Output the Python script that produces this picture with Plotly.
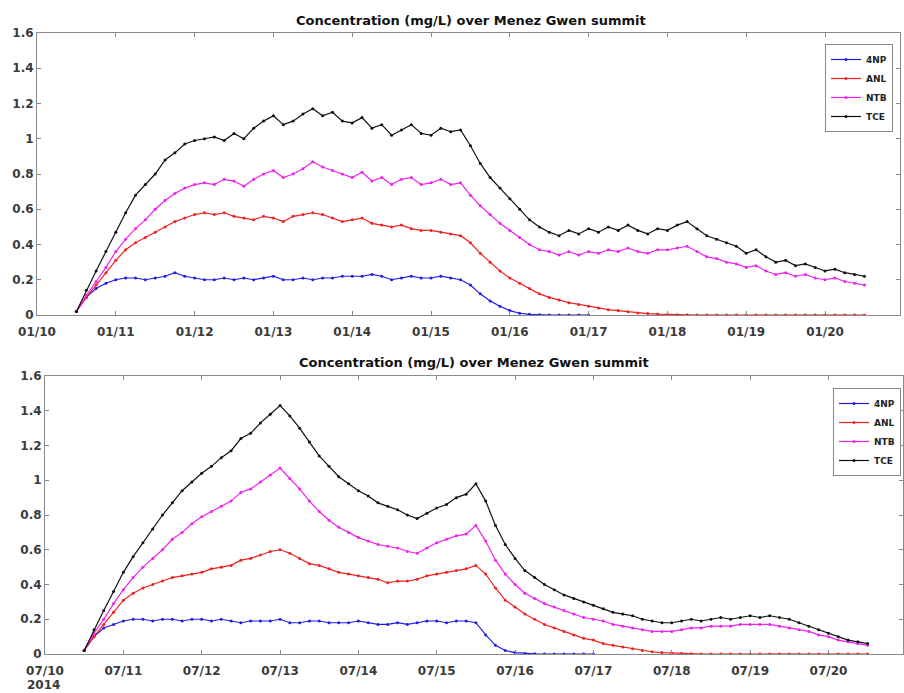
import pandas as pd
import plotly.graph_objects as go

# ---- data: concentrations (mg/L) every 3 hours from day 0.5 to day 10.5 ----
jan_start = "2014-01-10 12:00"
jul_start = "2014-07-10 12:00"
step = "3h"

series_names = ["4NP", "ANL", "NTB", "TCE"]
series_colors = ["#1f1fe6", "#ee2222", "#ee22ee", "#111111"]

jan_4np = [0.02, 0.10, 0.15, 0.18, 0.20, 0.21, 0.21, 0.20, 0.21, 0.22, 0.24, 0.22, 0.21, 0.20,
           0.20, 0.21, 0.20, 0.21, 0.20, 0.21, 0.22, 0.20, 0.20, 0.21, 0.20, 0.21, 0.21, 0.22,
           0.22, 0.22, 0.23, 0.22, 0.20, 0.21, 0.22, 0.21, 0.21, 0.22, 0.21, 0.20, 0.17, 0.12,
           0.08, 0.05, 0.025, 0.01, 0.004, 0.001, 0, 0, 0, 0, 0]
jan_anl = [0.02, 0.10, 0.17, 0.24, 0.31, 0.37, 0.41, 0.44, 0.47, 0.50, 0.53, 0.55, 0.57, 0.58,
           0.57, 0.58, 0.56, 0.55, 0.54, 0.56, 0.55, 0.53, 0.56, 0.57, 0.58, 0.57, 0.55, 0.53,
           0.54, 0.55, 0.52, 0.51, 0.50, 0.51, 0.49, 0.48, 0.48, 0.47, 0.46, 0.45, 0.41, 0.35,
           0.30, 0.25, 0.21, 0.18, 0.15, 0.12, 0.10, 0.085, 0.07, 0.06, 0.05, 0.04, 0.03, 0.025,
           0.018, 0.012, 0.008, 0.005, 0.003, 0.002, 0.001, 0, 0, 0, 0, 0, 0, 0, 0, 0, 0, 0, 0,
           0, 0, 0, 0, 0, 0]
jan_ntb = [0.02, 0.11, 0.19, 0.27, 0.36, 0.43, 0.49, 0.54, 0.60, 0.65, 0.69, 0.72, 0.74, 0.75,
           0.74, 0.77, 0.76, 0.73, 0.77, 0.80, 0.82, 0.78, 0.80, 0.83, 0.87, 0.84, 0.82, 0.80,
           0.78, 0.81, 0.76, 0.78, 0.74, 0.77, 0.78, 0.74, 0.75, 0.77, 0.74, 0.75, 0.68, 0.62,
           0.57, 0.52, 0.48, 0.44, 0.40, 0.37, 0.36, 0.34, 0.36, 0.34, 0.36, 0.35, 0.37, 0.36,
           0.38, 0.36, 0.35, 0.37, 0.37, 0.38, 0.39, 0.36, 0.33, 0.32, 0.30, 0.29, 0.27, 0.28,
           0.25, 0.23, 0.24, 0.22, 0.23, 0.21, 0.20, 0.21, 0.19, 0.18, 0.17]
jan_tce = [0.02, 0.14, 0.25, 0.36, 0.47, 0.58, 0.68, 0.74, 0.80, 0.88, 0.92, 0.97, 0.99, 1.00,
           1.01, 0.99, 1.03, 1.00, 1.06, 1.10, 1.13, 1.08, 1.10, 1.14, 1.17, 1.13, 1.15, 1.10,
           1.09, 1.12, 1.06, 1.08, 1.02, 1.05, 1.08, 1.03, 1.02, 1.06, 1.04, 1.05, 0.96, 0.86,
           0.78, 0.72, 0.66, 0.60, 0.54, 0.50, 0.47, 0.45, 0.48, 0.46, 0.49, 0.47, 0.50, 0.48,
           0.51, 0.48, 0.46, 0.49, 0.48, 0.51, 0.53, 0.49, 0.45, 0.43, 0.41, 0.39, 0.35, 0.37,
           0.33, 0.30, 0.31, 0.28, 0.29, 0.27, 0.25, 0.26, 0.24, 0.23, 0.22]

jul_4np = [0.02, 0.10, 0.15, 0.17, 0.19, 0.20, 0.20, 0.19, 0.20, 0.20, 0.19, 0.20, 0.20, 0.19,
           0.20, 0.19, 0.18, 0.19, 0.19, 0.19, 0.20, 0.18, 0.18, 0.19, 0.19, 0.18, 0.18, 0.18,
           0.19, 0.18, 0.17, 0.17, 0.18, 0.17, 0.18, 0.19, 0.19, 0.18, 0.19, 0.19, 0.18, 0.11,
           0.05, 0.02, 0.008, 0.003, 0.001, 0, 0, 0, 0, 0, 0]
jul_anl = [0.02, 0.10, 0.17, 0.24, 0.31, 0.35, 0.38, 0.40, 0.42, 0.44, 0.45, 0.46, 0.47, 0.49,
           0.50, 0.51, 0.54, 0.55, 0.57, 0.59, 0.60, 0.58, 0.55, 0.52, 0.51, 0.49, 0.47, 0.46,
           0.45, 0.44, 0.43, 0.41, 0.42, 0.42, 0.43, 0.45, 0.46, 0.47, 0.48, 0.49, 0.51, 0.46,
           0.38, 0.31, 0.27, 0.23, 0.20, 0.17, 0.15, 0.13, 0.11, 0.09, 0.08, 0.06, 0.05, 0.04,
           0.03, 0.02, 0.013, 0.008, 0.005, 0.003, 0.001, 0, 0, 0, 0, 0, 0, 0, 0, 0, 0, 0, 0,
           0, 0, 0, 0, 0, 0]
jul_ntb = [0.02, 0.12, 0.20, 0.29, 0.37, 0.44, 0.50, 0.55, 0.60, 0.66, 0.70, 0.75, 0.79, 0.82,
           0.85, 0.88, 0.93, 0.95, 0.99, 1.03, 1.07, 1.01, 0.95, 0.88, 0.82, 0.77, 0.73, 0.70,
           0.67, 0.65, 0.63, 0.62, 0.61, 0.59, 0.58, 0.61, 0.64, 0.66, 0.68, 0.69, 0.74, 0.65,
           0.54, 0.46, 0.40, 0.35, 0.32, 0.29, 0.27, 0.25, 0.23, 0.21, 0.20, 0.19, 0.17, 0.16,
           0.15, 0.14, 0.13, 0.13, 0.13, 0.14, 0.15, 0.15, 0.16, 0.16, 0.16, 0.17, 0.17, 0.17,
           0.17, 0.16, 0.15, 0.14, 0.13, 0.11, 0.10, 0.08, 0.07, 0.06, 0.05]
jul_tce = [0.02, 0.14, 0.25, 0.36, 0.47, 0.56, 0.64, 0.72, 0.80, 0.87, 0.94, 0.99, 1.04, 1.08,
           1.13, 1.17, 1.24, 1.27, 1.33, 1.38, 1.43, 1.37, 1.30, 1.22, 1.14, 1.08, 1.02, 0.98,
           0.94, 0.91, 0.87, 0.85, 0.83, 0.80, 0.78, 0.81, 0.84, 0.86, 0.90, 0.92, 0.98, 0.88,
           0.74, 0.63, 0.55, 0.48, 0.44, 0.40, 0.37, 0.34, 0.32, 0.30, 0.28, 0.26, 0.24, 0.23,
           0.22, 0.20, 0.19, 0.18, 0.18, 0.19, 0.20, 0.19, 0.20, 0.21, 0.20, 0.21, 0.22, 0.21,
           0.22, 0.21, 0.20, 0.18, 0.16, 0.14, 0.12, 0.10, 0.08, 0.07, 0.06]

y_ticks = [0, 0.2, 0.4, 0.6, 0.8, 1.0, 1.2, 1.4, 1.6]
y_tick_text = ["0", "0.2", "0.4", "0.6", "0.8", "1", "1.2", "1.4", "1.6"]
title_text = "Concentration (mg/L) over Menez Gwen summit"

panels = [
    dict(start=jan_start, series=[jan_4np, jan_anl, jan_ntb, jan_tce],
         xref="x", yref="y", legend="legend"),
    dict(start=jul_start, series=[jul_4np, jul_anl, jul_ntb, jul_tce],
         xref="x2", yref="y2", legend="legend2"),
]

fig = go.Figure()
for p in panels:
    for name, color, vals in zip(series_names, series_colors, p["series"]):
        t = pd.date_range(p["start"], periods=len(vals), freq=step)
        fig.add_trace(go.Scatter(
            x=t, y=vals, name=name, mode="lines+markers",
            line=dict(color=color, width=1.2),
            marker=dict(color=color, size=3),
            xaxis=p["xref"], yaxis=p["yref"], legend=p["legend"],
        ))

tick_font = dict(family="DejaVu Sans", size=12, color="#3a3a3a", weight="bold")
axis_common = dict(
    showgrid=False, zeroline=False, showline=True, linecolor="#8a8a8a", linewidth=1,
    mirror="allticks", ticks="inside", ticklen=4, tickcolor="#8a8a8a",
    tickfont=tick_font, automargin=False,
)
x_common = dict(type="date", dtick=86400000, tickformat="%m/%d", ticklabelstandoff=6)

legend_common = dict(
    xanchor="right", yanchor="top",
    bgcolor="white", bordercolor="#8a8a8a", borderwidth=1,
    font=dict(family="DejaVu Sans", size=9, color="#222222", weight="bold"),
    tracegroupgap=0, itemwidth=30,
)

title_font = dict(family="DejaVu Sans", size=13, color="#111111")

fig.update_layout(
    width=904, height=693,
    margin=dict(l=0, r=0, t=0, b=0, autoexpand=False),
    paper_bgcolor="white", plot_bgcolor="white",
    showlegend=True,
    xaxis=dict(domain=[37 / 904, 900 / 904], anchor="y",
               range=["2014-01-10 00:00", "2014-01-20 22:50"], tick0="2014-01-10",
               **x_common, **axis_common),
    yaxis=dict(domain=[378 / 693, 660 / 693], anchor="x", range=[0, 1.6],
               tickvals=y_ticks, ticktext=y_tick_text, **axis_common),
    xaxis2=dict(domain=[45 / 904, 903 / 904], anchor="y2",
                range=["2014-07-10 00:00", "2014-07-20 22:50"], tick0="2014-07-10",
                **x_common, **axis_common),
    yaxis2=dict(domain=[39 / 693, 317 / 693], anchor="x2", range=[0, 1.6],
                tickvals=y_ticks, ticktext=y_tick_text, **axis_common),
    legend=dict(x=893 / 904, y=(693 - 44) / 693, **legend_common),
    legend2=dict(x=901 / 904, y=(693 - 388) / 693, **legend_common),
    annotations=[
        dict(text="<b>" + title_text + "</b>", xref="paper", yref="paper",
             x=471 / 904, y=(693 - 21) / 693, xanchor="center", yanchor="middle",
             showarrow=False, font=title_font),
        dict(text="<b>" + title_text + "</b>", xref="paper", yref="paper",
             x=474 / 904, y=(693 - 362) / 693, xanchor="center", yanchor="middle",
             showarrow=False, font=title_font),
        dict(text="2014", xref="paper", yref="paper",
             x=43 / 904, y=(693 - 685) / 693, xanchor="center", yanchor="middle",
             showarrow=False, font=tick_font),
    ],
)

fig.write_html("out.html")
